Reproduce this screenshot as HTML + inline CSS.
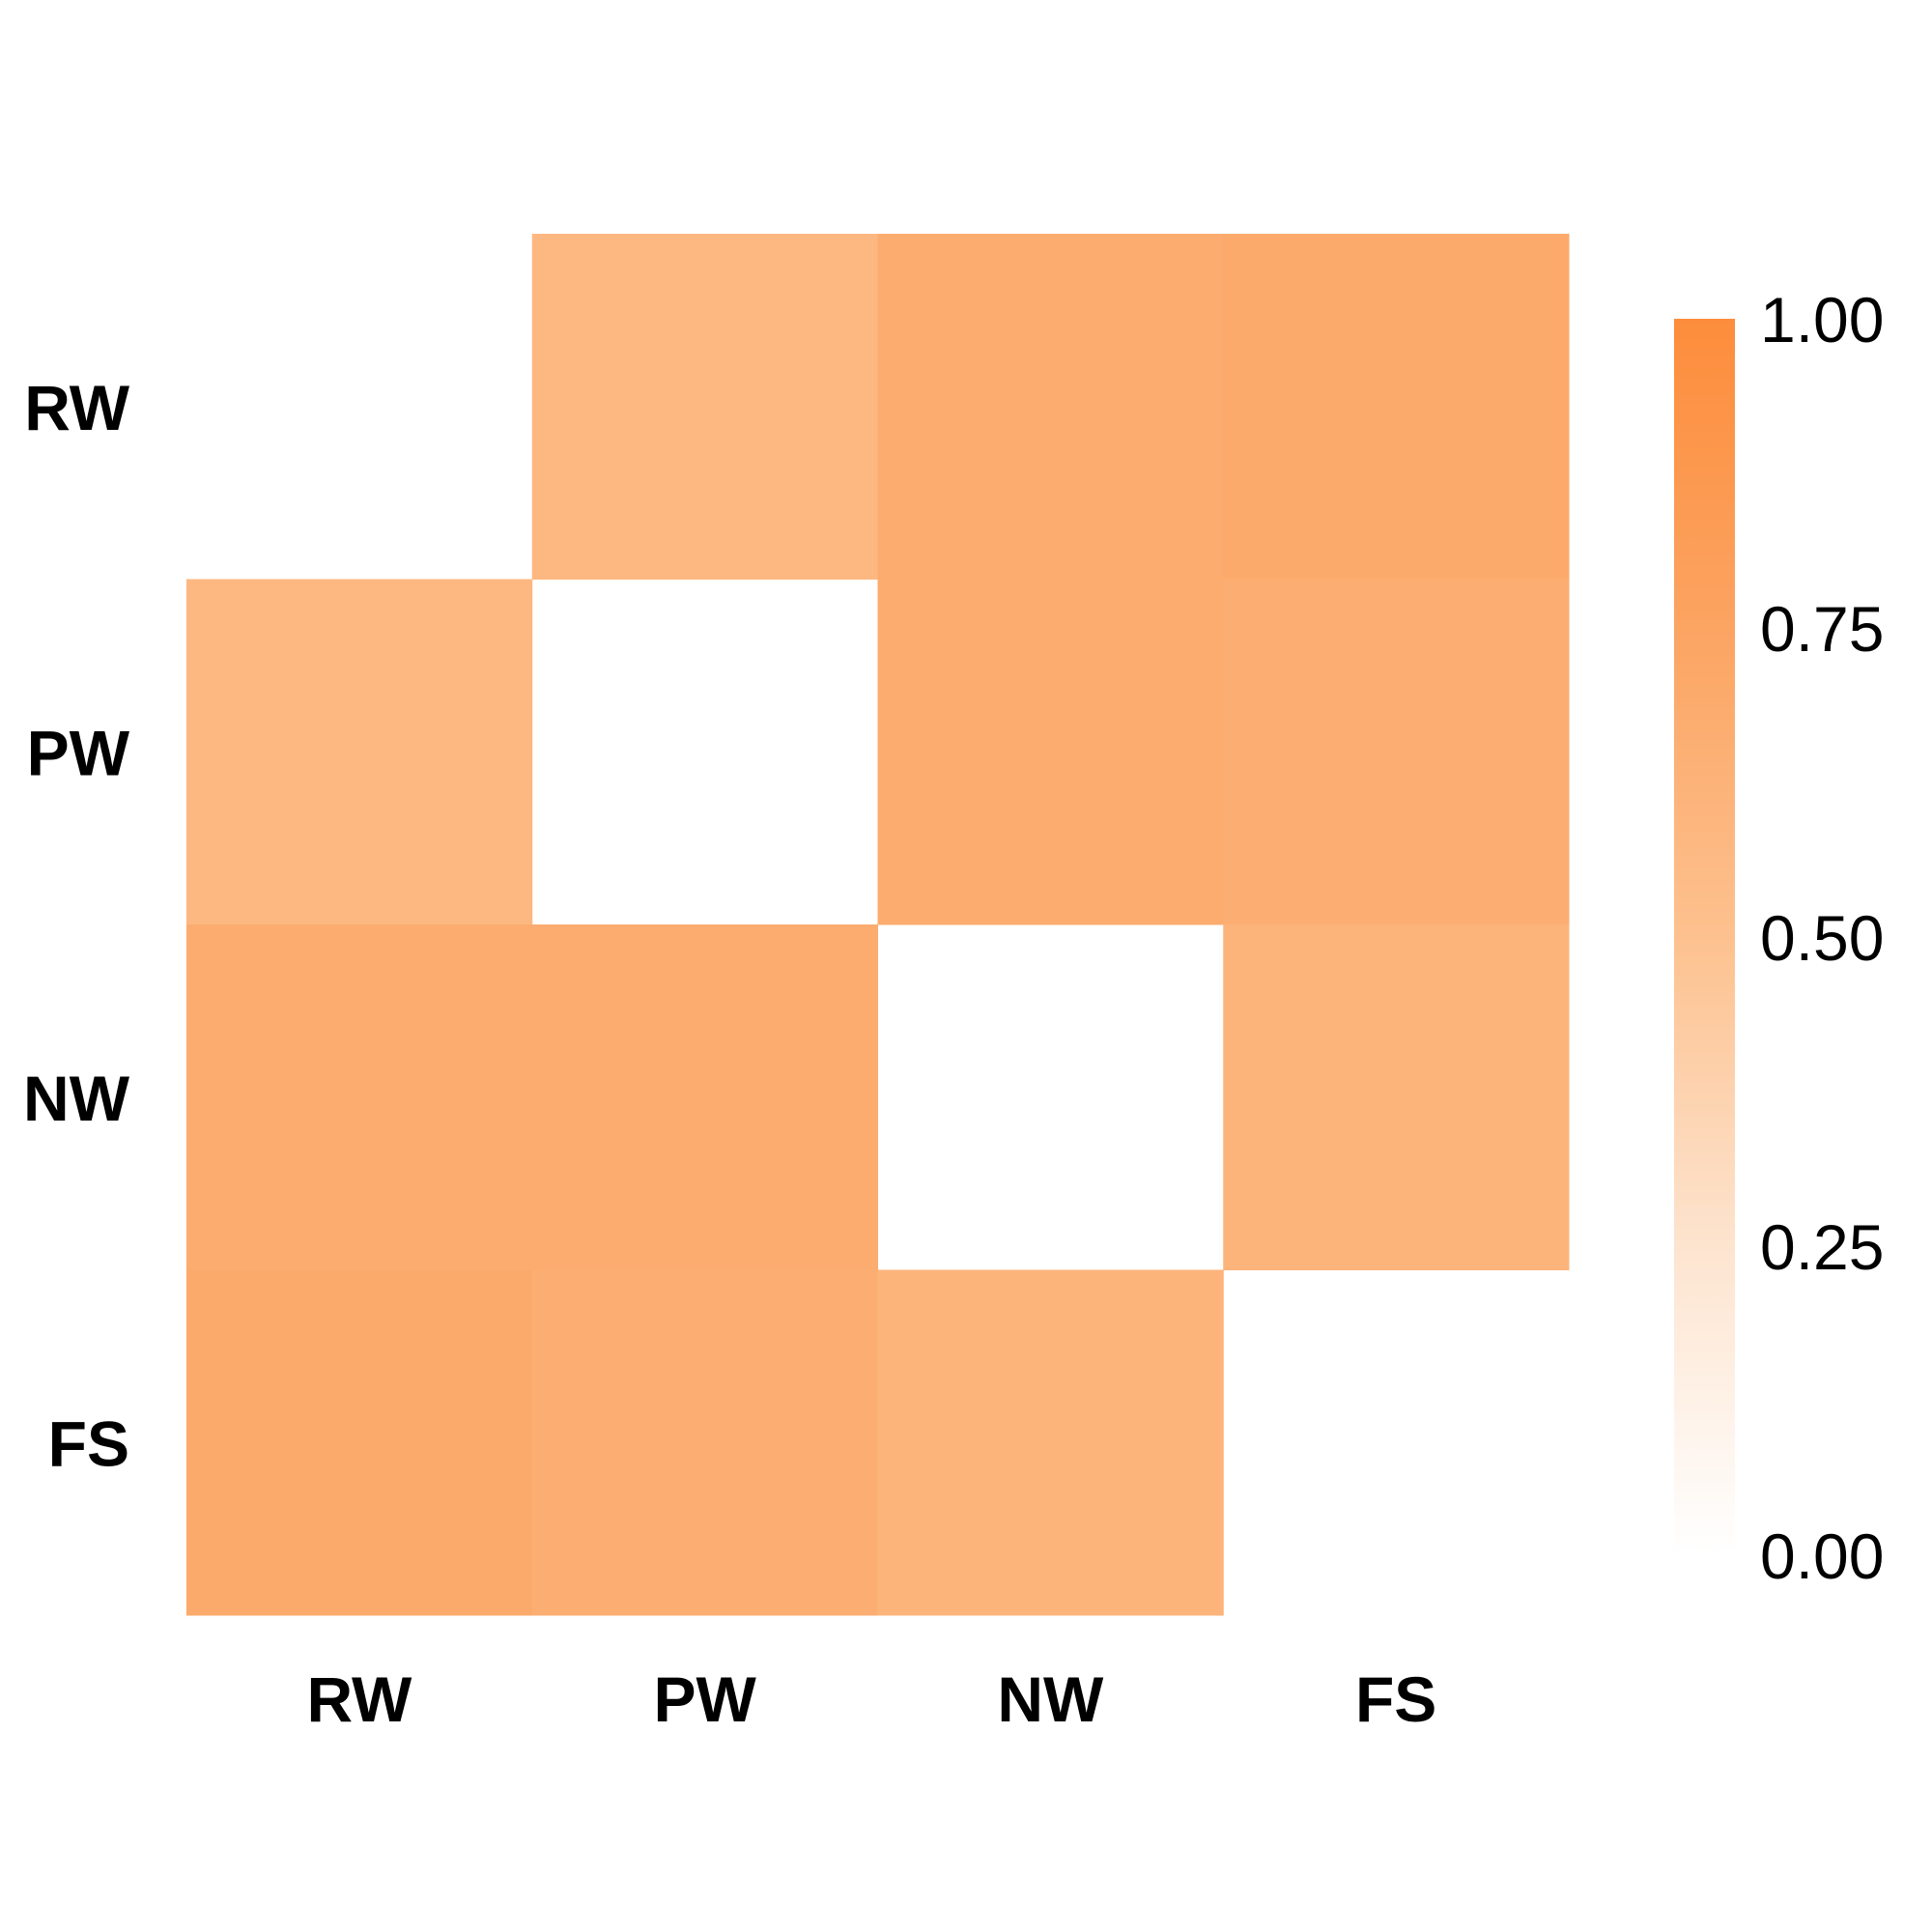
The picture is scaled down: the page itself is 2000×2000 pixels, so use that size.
<!DOCTYPE html>
<html><head><meta charset="utf-8"><style>
html,body{margin:0;padding:0;background:#fff;width:2000px;height:2000px;overflow:hidden}
svg{display:block}
text{font-family:"Liberation Sans",Arial,sans-serif}
</style></head><body>
<svg id="chart" width="2000" height="2000">
<defs><linearGradient id="cg" x1="0" y1="1" x2="0" y2="0">
<stop offset="0" stop-color="#ffffff"/><stop offset="0.25" stop-color="#fde4cf"/>
<stop offset="0.5" stop-color="#fdc18f"/><stop offset="0.75" stop-color="#fca462"/>
<stop offset="1" stop-color="#fd8d3c"/></linearGradient></defs>
</svg>
<script>
const categories=["RW","PW","NW","FS"];
const rowRW=[null,0.58,0.68,0.70];
const rowPW=[0.58,null,0.68,0.66];
const rowNW=[0.68,0.68,null,0.61];
const rowFS=[0.70,0.66,0.61,null];
const legendTicks=[0,0.25,0.5,0.75,1];
const legendLabels=["0.00","0.25","0.50","0.75","1.00"];
const rows=[rowRW,rowPW,rowNW,rowFS];
const NS="http://www.w3.org/2000/svg";
const svg=document.getElementById('chart');
const x0=193,y0=242,cw=357.75,ch=357.5;
const xs=i=>x0+i*cw, ys=j=>y0+j*ch;
const stops=[[0,[255,255,255]],[0.25,[253,228,207]],[0.5,[253,193,143]],[0.75,[252,164,98]],[1,[253,141,60]]];
function col(v){for(let i=1;i<stops.length;i++){if(v<=stops[i][0]){const a=stops[i-1],b=stops[i],t=(v-a[0])/(b[0]-a[0]);return 'rgb('+a[1].map((c,k)=>Math.round(c+(b[1][k]-c)*t)).join(',')+')';}}return 'rgb(253,141,60)';}
function mk(tag,attrs){const e=document.createElementNS(NS,tag);for(const k in attrs)e.setAttribute(k,attrs[k]);svg.appendChild(e);return e;}
rows.forEach((r,j)=>r.forEach((v,i)=>{if(v===null)return;
const e=mk('rect',{x:xs(i),y:ys(j),width:cw+0.5,height:ch+0.5,fill:col(v)});

}));
categories.forEach((c,j)=>{const t=mk('text',{x:134,y:ys(j)+ch/2+24,'text-anchor':'end','font-size':66,'font-weight':'bold',fill:'#000'});t.textContent=c;

});
categories.forEach((c,i)=>{const t=mk('text',{x:xs(i)+cw/2,y:1782,'text-anchor':'middle','font-size':66,'font-weight':'bold',fill:'#000'});t.textContent=c;

});
const cbTop=330,cbBot=1610,ly=v=>cbBot-(cbBot-cbTop)*v;
const bar=mk('rect',{x:1733,y:cbTop,width:63,height:cbBot-cbTop,fill:'url(#cg)'});


legendTicks.forEach((v,k)=>{const t=mk('text',{x:1822,y:ly(v)+24,'font-size':66,fill:'#000'});t.textContent=legendLabels[k];

});
</script>
</body></html>
